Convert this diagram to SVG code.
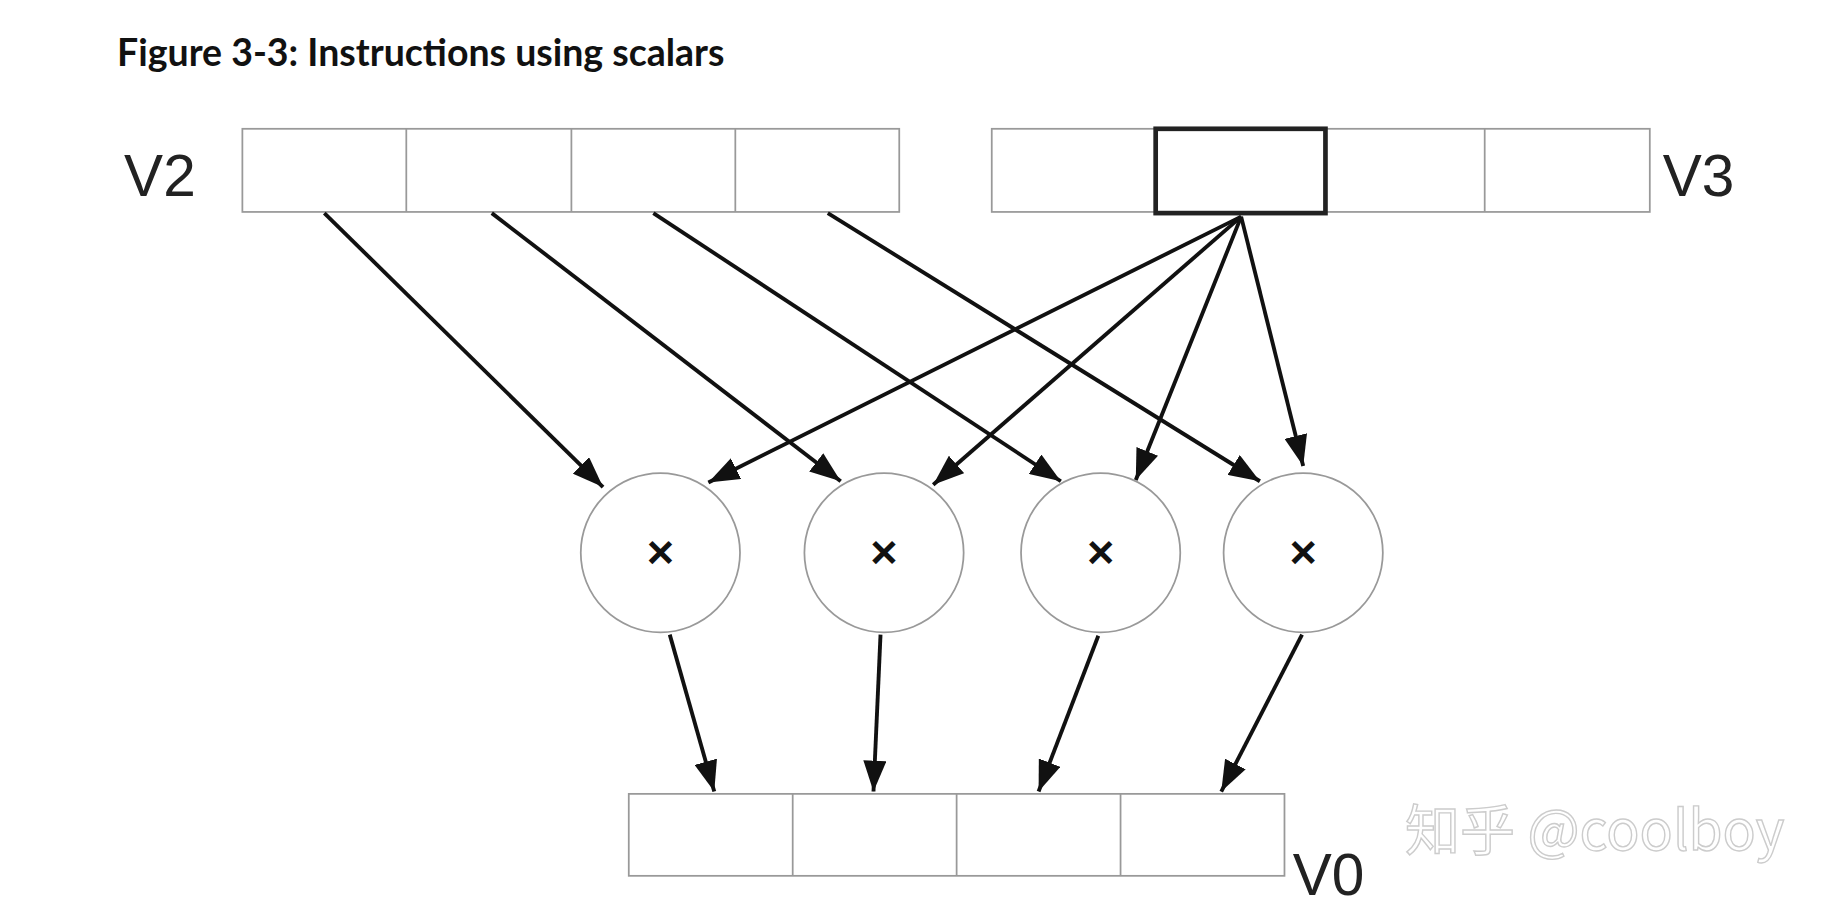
<svg xmlns="http://www.w3.org/2000/svg" width="1836" height="912" viewBox="0 0 1836 912">
<style>
.cell{fill:#fff;stroke:#999;stroke-width:1.5}
.op{fill:#fff;stroke:#999;stroke-width:1.5}
.lbl{font-family:"Liberation Sans",Arial,sans-serif;font-size:50px;fill:#222}
.x{font-family:"Liberation Sans",Arial,sans-serif;font-size:40px;font-weight:bold;fill:#111;text-anchor:middle}
.c line{stroke:#111;stroke-width:3.3;marker-end:url(#ah)}
</style>
<defs><marker id="ah" markerWidth="8" markerHeight="6" refX="8" refY="3" orient="auto" markerUnits="strokeWidth"><path d="M0,0L8,3L0,6z" fill="#111"/></marker></defs>
<rect width="1836" height="912" fill="#fff"/>
<g transform="scale(1.1709)">
<text x="100" y="56" font-family="Lato,'Liberation Sans',sans-serif" font-weight="bold" font-size="32" fill="#111">Figure 3-3: Instructions using scalars</text>
<g id="V2"><rect class="cell" x="207" y="110" width="561" height="71"/><line x1="347" y1="110" x2="347" y2="181" stroke="#999" stroke-width="1.5"/><line x1="488" y1="110" x2="488" y2="181" stroke="#999" stroke-width="1.5"/><line x1="628" y1="110" x2="628" y2="181" stroke="#999" stroke-width="1.5"/><text class="lbl" x="106" y="167">V2</text></g>
<g id="V3"><rect class="cell" x="847" y="110" width="562" height="71"/><line x1="1268" y1="110" x2="1268" y2="181" stroke="#999" stroke-width="1.5"/><rect x="987" y="110" width="145" height="72" fill="#fff" stroke="#222" stroke-width="4"/><text class="lbl" x="1420" y="167">V3</text></g>
<g id="V0"><rect class="cell" x="537" y="678" width="560" height="70"/><line x1="677" y1="678" x2="677" y2="748" stroke="#999" stroke-width="1.5"/><line x1="817" y1="678" x2="817" y2="748" stroke="#999" stroke-width="1.5"/><line x1="957" y1="678" x2="957" y2="748" stroke="#999" stroke-width="1.5"/><text class="lbl" x="1104" y="764">V0</text></g>
<g id="m1"><circle class="op" cx="564" cy="472" r="68"/><text class="x" x="564" y="485">×</text></g>
<g id="m2"><circle class="op" cx="755" cy="472" r="68"/><text class="x" x="755" y="485">×</text></g>
<g id="m3"><circle class="op" cx="940" cy="472" r="68"/><text class="x" x="940" y="485">×</text></g>
<g id="m4"><circle class="op" cx="1113" cy="472" r="68"/><text class="x" x="1113" y="485">×</text></g>
<g class="c" id="connectors">
<line x1="277" y1="182" x2="515" y2="416"/>
<line x1="420" y1="182" x2="718" y2="411"/>
<line x1="558" y1="182" x2="906" y2="411"/>
<line x1="707" y1="182" x2="1076" y2="411"/>
<line x1="1060" y1="185" x2="605" y2="412"/>
<line x1="1060" y1="185" x2="797" y2="414"/>
<line x1="1060" y1="185" x2="970" y2="410"/>
<line x1="1060" y1="185" x2="1113" y2="398"/>
<line x1="572" y1="542" x2="610" y2="676"/>
<line x1="752" y1="542" x2="746" y2="676"/>
<line x1="938" y1="543" x2="887" y2="676"/>
<line x1="1112" y1="542" x2="1043" y2="676"/>
</g>
<text x="1200" y="726" font-family="'Noto Sans CJK SC','Liberation Sans',sans-serif" font-size="47" fill="#fff" stroke="#ccc" stroke-width="1.2">知乎 @coolboy</text>
</g>
</svg>
